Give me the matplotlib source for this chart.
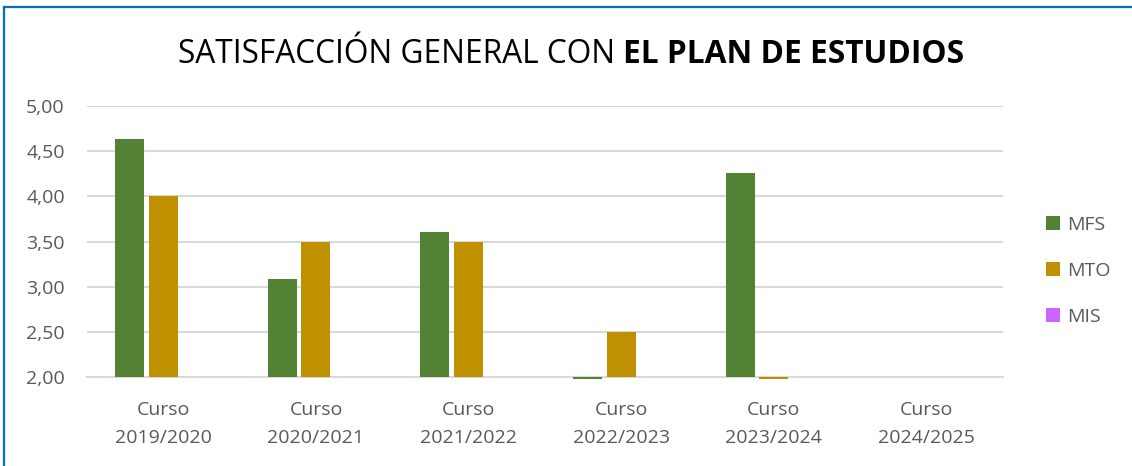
import matplotlib.pyplot as plt
import numpy as np
from matplotlib.lines import Line2D

# data
cursos = ["Curso\n2019/2020", "Curso\n2020/2021", "Curso\n2021/2022",
          "Curso\n2022/2023", "Curso\n2023/2024", "Curso\n2024/2025"]
mfs = [4.63, 3.09, 3.61, 1.98, 4.26, np.nan]
mto = [4.00, 3.50, 3.50, 2.50, 1.98, np.nan]
mis = [np.nan, np.nan, np.nan, np.nan, np.nan, np.nan]
series = ["MFS", "MTO", "MIS"]
colors = ["#548235", "#BF9000", "#CC66FF"]
yticks = [2.0, 2.5, 3.0, 3.5, 4.0, 4.5, 5.0]

plt.rcParams['font.family'] = ['Open Sans', 'DejaVu Sans']

fig = plt.figure(figsize=(11.32, 4.66), dpi=100)
ax = fig.add_axes([0.0769, 0.191, 0.809, 0.5815])

x = np.arange(len(cursos))
width = 0.19
base = 2.0
for i, (vals, c, name) in enumerate(zip([mfs, mto, mis], colors, series)):
    v = np.array(vals, dtype=float)
    ax.bar(x + (i - 1) * 0.222, v - base, width, bottom=base, color=c,
           label=name, clip_on=False, zorder=3)

ax.set_ylim(2, 5)
ax.set_xlim(-0.5, len(cursos) - 0.5)
ax.set_yticks(yticks)
ax.set_yticklabels([f"{t:.2f}".replace(".", ",") for t in yticks])
ax.set_xticks(x)
ax.set_xticklabels(cursos, linespacing=1.75)
ax.tick_params(axis='both', length=0, labelsize=14, colors="#595959")
ax.tick_params(axis='x', pad=17)
ax.tick_params(axis='y', pad=16)
ax.grid(axis='y', color="#D9D9D9", linewidth=1.5, zorder=0)
for s in ["top", "right", "left"]:
    ax.spines[s].set_visible(False)
ax.spines["bottom"].set_color("#D9D9D9")
ax.spines["bottom"].set_linewidth(1.5)

leg = ax.legend(loc='center left', bbox_to_anchor=(0.909, 0.4185),
                bbox_transform=fig.transFigure, frameon=False,
                fontsize=14, handlelength=0.72, handleheight=0.72,
                labelspacing=1.45, handletextpad=0.35)
for t in leg.get_texts():
    t.set_color("#595959")

# title: normal part + bold part, centered together
renderer = fig.canvas.get_renderer()
t1 = fig.text(0, 0.884, "SATISFACCIÓN GENERAL CON ", fontsize=22.8, va='center')
t2 = fig.text(0, 0.884, "EL PLAN DE ESTUDIOS", fontsize=22.8, va='center',
              fontweight='bold')
w1 = t1.get_window_extent(renderer).width / fig.bbox.width
w2 = t2.get_window_extent(renderer).width / fig.bbox.width
x0 = 0.5045 - (w1 + w2) / 2
t1.set_x(x0)
t2.set_x(x0 + w1)

# blue frame (top and left edges visible)
fig.add_artist(Line2D([0.0031, 1.0], [0.986, 0.986], transform=fig.transFigure,
                      color="#0070C0", linewidth=1.6))
fig.add_artist(Line2D([0.0031, 0.0031], [0.0, 0.986], transform=fig.transFigure,
                      color="#0070C0", linewidth=1.6))

fig.savefig("out.png", dpi=100)
